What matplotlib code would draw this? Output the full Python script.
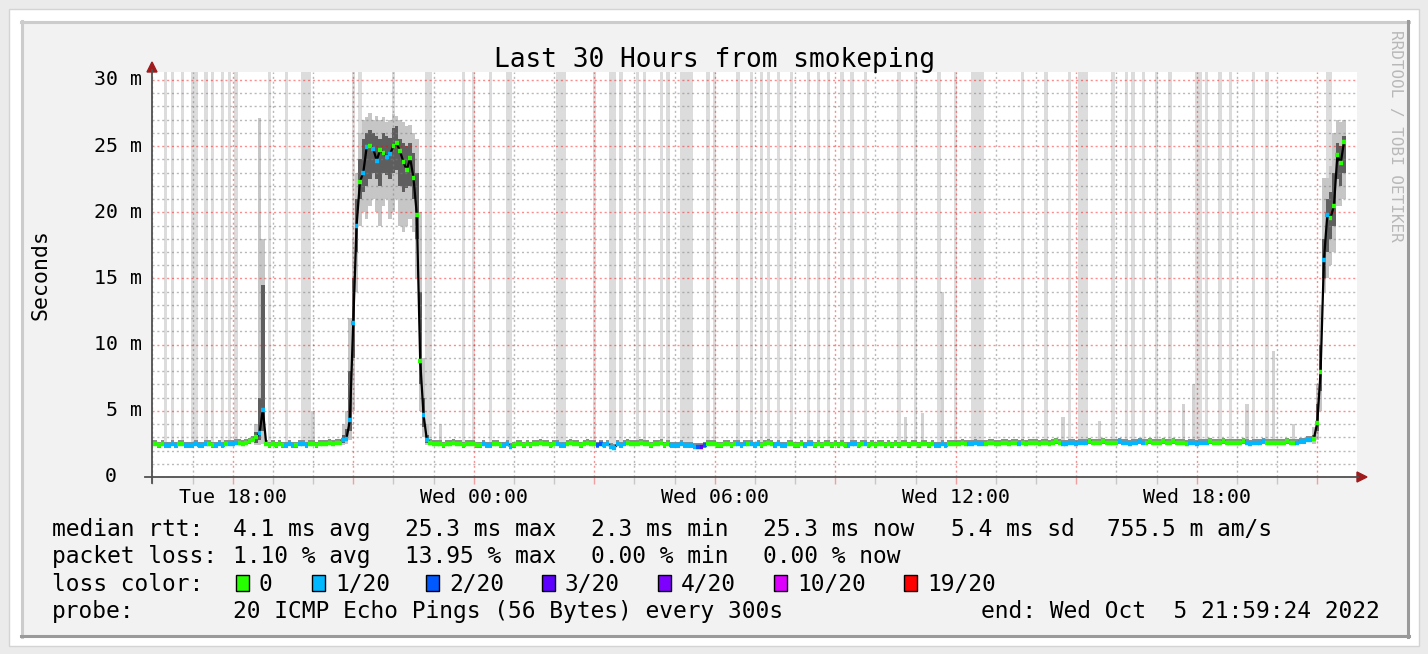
import matplotlib
matplotlib.use("Agg")
import matplotlib.pyplot as plt
import matplotlib.dates as mdates
from matplotlib.patches import Rectangle, Polygon
from matplotlib.lines import Line2D
from matplotlib.ticker import FuncFormatter, MultipleLocator
from datetime import datetime, timedelta

W, H = 1428, 654
MONO = "DejaVu Sans Mono"

t_begin = datetime(2022, 10, 4, 15, 59, 24)
t_end = datetime(2022, 10, 5, 21, 59, 24)
first_sample = datetime(2022, 10, 4, 16, 0, 0)
step_minutes = 5

# median rtt in ms, one row per hour (12 samples of 5 min)
median_ms = [
    2.5, 2.5, 2.4, 2.5, 2.4, 2.4, 2.5, 2.4, 2.5, 2.5, 2.4, 2.4,
    2.4, 2.5, 2.4, 2.4, 2.5, 2.5, 2.4, 2.4, 2.5, 2.4, 2.5, 2.5,
    2.5, 2.6, 2.6, 2.5, 2.6, 2.7, 2.8, 3.0, 3.3, 5.1, 2.5, 2.4,
    2.5, 2.4, 2.5, 2.4, 2.4, 2.5, 2.4, 2.4, 2.5, 2.5, 2.4, 2.5,
    2.5, 2.4, 2.5, 2.5, 2.5, 2.6, 2.5, 2.6, 2.6, 2.8, 2.9, 4.3,
    11.6, 19.0, 22.3, 23.0, 24.9, 25.0, 24.8, 23.9, 24.7, 24.5, 24.2, 24.4,
    25.0, 25.2, 24.6, 23.8, 23.2, 24.1, 22.6, 19.8, 8.8, 4.7, 2.8, 2.6,
    2.5, 2.5, 2.5, 2.4, 2.5, 2.5, 2.6, 2.5, 2.5, 2.4, 2.5, 2.5,
    2.5, 2.4, 2.4, 2.5, 2.4, 2.4, 2.5, 2.5, 2.4, 2.4, 2.5, 2.3,
    2.4, 2.5, 2.5, 2.4, 2.5, 2.4, 2.5, 2.5, 2.6, 2.5, 2.5, 2.4,
    2.5, 2.5, 2.4, 2.4, 2.5, 2.6, 2.5, 2.5, 2.4, 2.5, 2.6, 2.5,
    2.5, 2.4, 2.5, 2.4, 2.5, 2.3, 2.2, 2.5, 2.4, 2.5, 2.6, 2.5,
    2.5, 2.5, 2.6, 2.5, 2.5, 2.4, 2.5, 2.5, 2.6, 2.4, 2.5, 2.4,
    2.4, 2.4, 2.5, 2.4, 2.4, 2.4, 2.3, 2.3, 2.3, 2.4, 2.5, 2.5,
    2.5, 2.4, 2.4, 2.5, 2.5, 2.4, 2.5, 2.5, 2.4, 2.5, 2.5, 2.5,
    2.4, 2.5, 2.4, 2.5, 2.6, 2.5, 2.4, 2.5, 2.4, 2.4, 2.5, 2.5,
    2.4, 2.4, 2.5, 2.4, 2.5, 2.5, 2.4, 2.5, 2.4, 2.5, 2.5, 2.4,
    2.5, 2.4, 2.5, 2.4, 2.4, 2.5, 2.5, 2.4, 2.5, 2.5, 2.4, 2.5,
    2.4, 2.5, 2.5, 2.4, 2.5, 2.4, 2.5, 2.4, 2.5, 2.5, 2.4, 2.5,
    2.5, 2.4, 2.5, 2.5, 2.4, 2.5, 2.4, 2.4, 2.5, 2.4, 2.5, 2.5,
    2.5, 2.5, 2.6, 2.5, 2.5, 2.5, 2.6, 2.5, 2.5, 2.5, 2.6, 2.6,
    2.5, 2.5, 2.6, 2.6, 2.5, 2.6, 2.6, 2.5, 2.6, 2.5, 2.6, 2.6,
    2.6, 2.5, 2.6, 2.6, 2.5, 2.6, 2.7, 2.6, 2.5, 2.5, 2.6, 2.6,
    2.5, 2.6, 2.6, 2.6, 2.7, 2.6, 2.6, 2.6, 2.7, 2.6, 2.6, 2.6,
    2.6, 2.7, 2.6, 2.6, 2.5, 2.6, 2.6, 2.7, 2.6, 2.6, 2.7, 2.6,
    2.6, 2.6, 2.7, 2.6, 2.6, 2.7, 2.6, 2.6, 2.6, 2.5, 2.6, 2.6,
    2.5, 2.6, 2.6, 2.6, 2.7, 2.6, 2.6, 2.6, 2.7, 2.6, 2.6, 2.6,
    2.6, 2.6, 2.7, 2.6, 2.5, 2.6, 2.6, 2.6, 2.7, 2.6, 2.6, 2.6,
    2.6, 2.6, 2.6, 2.7, 2.6, 2.6, 2.6, 2.7, 2.7, 2.8, 2.8, 2.9,
    4.1, 7.9, 16.4, 19.8, 19.6, 20.5, 24.3, 23.7, 25.3,
]

# lost pings out of 20 for each sample
loss = [
    0, 0, 0, 0, 1, 1, 1, 1, 0, 0, 1, 1,
    1, 1, 1, 1, 1, 0, 0, 1, 1, 1, 0, 1,
    1, 1, 0, 0, 0, 0, 0, 0, 1, 1, 0, 0,
    0, 0, 0, 0, 1, 1, 1, 0, 1, 1, 1, 0,
    0, 0, 0, 0, 0, 0, 0, 0, 0, 1, 1, 1,
    1, 1, 0, 1, 1, 0, 1, 1, 0, 0, 1, 1,
    0, 0, 0, 0, 0, 0, 0, 0, 0, 1, 1, 0,
    0, 0, 0, 0, 0, 0, 0, 0, 0, 0, 0, 0,
    0, 0, 0, 1, 1, 1, 0, 0, 0, 1, 1, 1,
    0, 0, 0, 0, 0, 0, 0, 0, 0, 0, 0, 0,
    0, 1, 1, 1, 0, 0, 0, 0, 0, 0, 0, 0,
    0, 2, 2, 1, 1, 1, 1, 1, 1, 1, 0, 0,
    0, 0, 0, 0, 0, 0, 0, 0, 0, 0, 0, 1,
    1, 1, 1, 1, 1, 1, 1, 2, 3, 2, 0, 0,
    0, 0, 0, 0, 0, 0, 0, 1, 1, 1, 0, 1,
    1, 1, 0, 0, 0, 0, 1, 1, 1, 1, 0, 0,
    0, 0, 0, 1, 1, 1, 0, 0, 0, 0, 0, 0,
    0, 0, 0, 0, 1, 1, 1, 0, 0, 1, 0, 0,
    0, 0, 0, 0, 0, 0, 0, 0, 0, 0, 0, 0,
    0, 0, 0, 0, 0, 0, 1, 1, 1, 1, 0, 0,
    0, 0, 0, 0, 1, 1, 1, 1, 1, 0, 0, 0,
    0, 0, 0, 0, 0, 0, 0, 1, 0, 0, 0, 0,
    0, 0, 0, 0, 0, 0, 0, 0, 1, 1, 1, 1,
    1, 1, 1, 1, 0, 0, 0, 0, 0, 0, 0, 0,
    0, 1, 1, 1, 1, 1, 1, 1, 1, 0, 0, 0,
    0, 0, 0, 0, 0, 0, 0, 0, 0, 0, 1, 1,
    1, 1, 1, 1, 0, 0, 0, 0, 0, 0, 0, 0,
    0, 0, 0, 1, 1, 1, 1, 1, 1, 0, 0, 0,
    0, 0, 0, 0, 0, 0, 1, 1, 1, 1, 1, 0,
    0, 0, 1, 1, 0, 0, 0, 0, 0,
]

# samples whose slowest ping went past the top of the graph
spike_steps = [4, 6, 9, 12, 13, 16, 18, 21, 23, 25, 35, 40, 45, 46, 47, 60, 62, 72,
               82, 83, 93, 96, 101, 106, 107, 121, 122, 123, 132, 137, 138, 140, 145,
               147, 152, 154, 158, 159, 160, 161, 166, 168, 175, 179, 182, 184, 187,
               191, 196, 199, 202, 206, 209, 213, 223, 228, 235, 240, 245, 246, 247,
               248, 260, 267, 274, 277, 278, 279, 287, 291, 293, 296, 300, 304, 312,
               313, 315, 319, 322, 329, 333, 351, 352]

# samples with a smaller slow ping
peak_steps = [48, 86, 225, 230, 236, 272, 283, 308, 311, 327, 335, 341]
peak_ms = [5.0, 4.0, 4.5, 4.8, 14.0, 4.5, 4.2, 5.5, 7.0, 5.5, 9.5, 4.0]

# spread of the pings around the high-latency periods
smoke_steps = [31, 32, 33, 57, 58, 59, 60, 61, 62, 63, 64, 65, 66, 67, 68, 69, 70,
               71, 72, 73, 74, 75, 76, 77, 78, 79, 80, 81, 82,
               347, 348, 349, 350, 351, 352, 353, 354, 355, 356]
smoke_lo = [2.4, 2.4, 2.5, 2.4, 2.5, 2.8, 5.0, 14.0, 19.0, 20.0, 19.5, 20.5, 21.0,
            20.0, 19.0, 20.5, 21.0, 19.5, 20.0, 21.0, 19.0, 18.5, 19.0, 19.5, 18.5,
            15.0, 5.0, 3.0, 2.4,
            2.5, 2.8, 5.0, 14.0, 15.0, 16.0, 17.0, 20.5, 20.5, 21.0]
smoke_q1 = [2.6, 2.8, 3.5, 2.6, 2.7, 3.5, 9.0, 17.0, 21.0, 21.5, 22.0, 22.5, 23.0,
            22.5, 22.0, 23.0, 22.8, 22.5, 23.0, 23.2, 22.0, 21.5, 21.8, 22.0, 21.0,
            18.0, 7.0, 3.8, 2.6,
            2.7, 3.5, 6.5, 15.0, 17.0, 18.0, 19.0, 22.5, 22.0, 23.0]
smoke_q3 = [3.4, 6.0, 14.5, 3.2, 3.6, 8.0, 15.0, 21.0, 24.0, 25.5, 26.0, 26.2, 26.0,
            25.8, 25.5, 26.0, 25.8, 25.6, 26.4, 26.5, 25.5, 25.2, 25.0, 25.2, 24.5,
            23.0, 14.0, 6.0, 3.2,
            3.2, 5.5, 10.0, 18.0, 21.0, 21.5, 23.0, 25.2, 25.0, 25.8]
smoke_hi = [4.0, 27.1, 18.0, 4.0, 5.0, 12.0, 18.0, 23.0, 26.0, 27.0, 27.2, 27.5, 27.0,
            27.3, 27.0, 27.2, 26.8, 27.0, 27.4, 27.3, 27.0, 26.8, 26.5, 26.6, 26.0,
            25.5, 20.0, 9.0, 4.0,
            3.8, 7.0, 13.0, 22.6, 22.6, 23.5, 26.0, 27.0, 26.8, 27.0]

loss_levels = [0, 1, 2, 3, 4, 10, 19]
loss_labels = ["0", "1/20", "2/20", "3/20", "4/20", "10/20", "19/20"]
loss_colors = ["#26ff00", "#00b8ff", "#0059ff", "#5e00ff", "#7e00ff", "#dd00ff", "#ff0000"]

rtt_stats = ["4.1 ms avg", "25.3 ms max", "2.3 ms min", "25.3 ms now", "5.4 ms sd", "755.5 m am/s"]
loss_stats = ["1.10 % avg", "13.95 % max", "0.00 % min", "0.00 % now"]
probe_text = "20 ICMP Echo Pings (56 Bytes) every 300s"
end_text = "end: Wed Oct  5 21:59:24 2022"
title = "Last 30 Hours from smokeping"


def fx(x):
    return x / W


def fy(y):
    return 1 - y / H


fig = plt.figure(figsize=(W / 100, H / 100), dpi=100)
fig.patch.set_facecolor("#ebebeb")

# frames around the rrd image (kept behind the axes)
fig.add_artist(Rectangle((fx(9), fy(646)), 1410 / W, 637 / H, transform=fig.transFigure,
                         facecolor="white", edgecolor="#d4d4d4", lw=1, zorder=-3))
fig.add_artist(Rectangle((fx(21), fy(637)), 1388 / W, 616 / H, transform=fig.transFigure,
                         facecolor="#f2f2f2", edgecolor="none", zorder=-2))
for (x0, y0, x1, y1, c) in [(21, 22, 1409, 22, "#cccccc"), (22, 21, 22, 637, "#cccccc"),
                            (21, 636, 1409, 636, "#9a9a9a"), (1408, 21, 1408, 637, "#9a9a9a")]:
    fig.add_artist(Line2D([fx(x0), fx(x1)], [fy(y0), fy(y1)], transform=fig.transFigure,
                          color=c, lw=2.2, zorder=-1))

ax = fig.add_axes([fx(152), fy(477), 1205 / W, 405 / H])
ax.set_facecolor("white")

times = [first_sample + timedelta(minutes=step_minutes * i) for i in range(len(median_ms))]
tnum = mdates.date2num(times)
width = step_minutes / 1440.0

# tall light smoke going off the top
ax.bar([tnum[i] for i in spike_steps], [40 - median_ms[i] for i in spike_steps],
       bottom=[median_ms[i] for i in spike_steps], width=width, align="center",
       color="#dcdcdc", lw=0, zorder=1)
ax.bar([tnum[i] for i in peak_steps], [p - median_ms[i] for i, p in zip(peak_steps, peak_ms)],
       bottom=[median_ms[i] for i in peak_steps], width=width, align="center",
       color="#d2d2d2", lw=0, zorder=1)

# smoke around the median
normal = [i for i in range(len(median_ms)) if i not in smoke_steps]
ax.bar([tnum[i] for i in normal], 0.45, bottom=[median_ms[i] - 0.18 for i in normal],
       width=width, align="center", color="#8c8c8c", lw=0, zorder=2)
st = [tnum[i] for i in smoke_steps]
ax.bar(st, [h - l for h, l in zip(smoke_hi, smoke_lo)], bottom=smoke_lo, width=width,
       align="center", color="#c6c6c6", lw=0, zorder=2)
ax.bar(st, [h - l for h, l in zip(smoke_q3, smoke_q1)], bottom=smoke_q1, width=width,
       align="center", color="#5e5e5e", lw=0, zorder=2)

# grid
ax.set_ylim(0, 30.6)
ax.set_xlim(mdates.date2num(t_begin), mdates.date2num(t_end))
ax.yaxis.set_major_locator(MultipleLocator(5))
ax.yaxis.set_minor_locator(MultipleLocator(1))
ax.xaxis.set_major_locator(mdates.HourLocator(byhour=range(0, 24, 3)))
ax.xaxis.set_minor_locator(mdates.HourLocator())
ax.grid(which="minor", color="#808080", alpha=0.55, lw=1.0, linestyle=(0, (1.5, 2)), zorder=3)
ax.grid(which="major", color="#ff0000", alpha=0.45, lw=1.0, linestyle=(0, (1.5, 2)), zorder=3)
ax.set_axisbelow(False)

# median line with loss colours
ax.plot(tnum, median_ms, color="black", lw=1.6, zorder=4)
cols = [loss_colors[loss_levels.index(v)] for v in loss]
ax.hlines(median_ms, tnum - width * 0.55, tnum + width * 0.55, colors=cols, lw=3.2, zorder=5)


def xfmt(v, pos):
    d = mdates.num2date(v)
    return d.strftime("%a %H:%M") if d.hour % 6 == 0 else ""


ax.xaxis.set_major_formatter(FuncFormatter(xfmt))
ax.tick_params(axis="x", which="major", length=5, width=1, color="#f0a0a0", pad=3,
               labelsize=14.3)
ax.tick_params(axis="x", which="minor", length=5, width=1, color="#c8c8c8")
for lab in ax.get_xticklabels():
    lab.set_family(MONO)
ax.tick_params(axis="y", which="both", length=0, labelleft=False)
for v in range(0, 31, 5):
    lab = "0" if v == 0 else "%d m" % v
    off = -35 if v == 0 else -10
    ax.annotate(lab, xy=(0, v), xycoords=("axes fraction", "data"), xytext=(off, 0),
                textcoords="offset pixels", ha="right", va="center", fontsize=14.3,
                family=MONO, annotation_clip=False)
for s in ax.spines.values():
    s.set_visible(False)

# axes with arrows
fig.add_artist(Line2D([fx(152), fx(152)], [fy(483), fy(70)], transform=fig.transFigure,
                      color="#505050", lw=1.3))
fig.add_artist(Line2D([fx(145), fx(1358)], [fy(477), fy(477)], transform=fig.transFigure,
                      color="#505050", lw=1.3))
fig.add_artist(Polygon([(fx(147), fy(72)), (fx(157), fy(72)), (fx(152), fy(62))],
                       transform=fig.transFigure, color="#a01c1c"))
fig.add_artist(Polygon([(fx(1357), fy(472)), (fx(1357), fy(482)), (fx(1367), fy(477))],
                       transform=fig.transFigure, color="#a01c1c"))

# texts
fig.text(fx(714), fy(60), title, ha="center", va="center", fontsize=18.9, family=MONO)
fig.text(fx(40), fy(275), "Seconds", ha="center", va="center", rotation=90,
         fontsize=15.5, family=MONO)
fig.text(fx(1395), fy(30), "RRDTOOL / TOBI OETIKER", ha="center", va="top", rotation=-90,
         fontsize=11.5, family=MONO, color="#b8b8b8")

leg = dict(fontsize=16.5, family=MONO, va="baseline")
fig.text(fx(52), fy(536), "median rtt:", **leg)
for x, s in zip([233, 405, 591, 763, 951, 1107], rtt_stats):
    fig.text(fx(x), fy(536), s, **leg)
fig.text(fx(52), fy(563), "packet loss:", **leg)
for x, s in zip([233, 405, 591, 763], loss_stats):
    fig.text(fx(x), fy(563), s, **leg)
fig.text(fx(52), fy(591), "loss color:", **leg)
for x, s, c in zip([236, 312, 426, 542, 658, 774, 904], loss_labels, loss_colors):
    fig.add_artist(Rectangle((fx(x), fy(591)), 13 / W, 16 / H, transform=fig.transFigure,
                             facecolor=c, edgecolor="black", lw=1))
    fig.text(fx(x + 23), fy(591), s, **leg)
fig.text(fx(52), fy(618), "probe:", **leg)
fig.text(fx(233), fy(618), probe_text, **leg)
fig.text(fx(1380), fy(618), end_text, ha="right", fontsize=16.5, family=MONO, va="baseline")

fig.savefig("out.png", dpi=100, facecolor=fig.get_facecolor())
